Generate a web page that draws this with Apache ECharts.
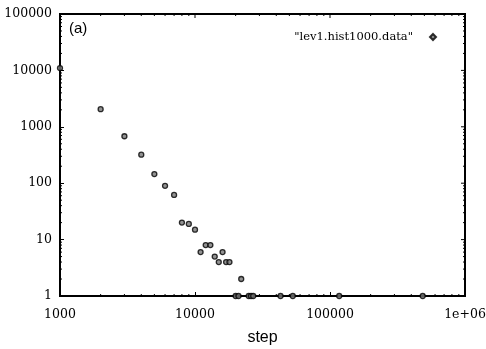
<!DOCTYPE html>
<html>
<head>
<meta charset="utf-8">
<script src="https://cdn.jsdelivr.net/npm/echarts@6/dist/echarts.min.js"></script>
<style>html,body{margin:0;padding:0;background:#fff}#c{width:486px;height:349px}</style>
</head>
<body>
<div id="c"></div>
<script>
var seriesName = '"lev1.hist1000.data"';
var steps  = [1000, 2000, 3000, 4000, 5000, 6000, 7000, 8000, 9000, 10000, 11000, 12000, 13000, 14000, 15000, 16000, 17000, 18000, 22000, 20000, 21000, 25000, 26000, 27000, 43000, 53000, 117000, 486000];
var counts = [11000, 2050, 680, 320, 145, 90, 62, 20, 19, 15, 6, 8, 8, 5, 4, 6, 4, 4, 2, 1, 1, 1, 1, 1, 1, 1, 1, 1];
var xTickLabels = {1000: '1000', 10000: '10000', 100000: '100000', 1000000: '1e+06'};
var yTickLabels = {1: '1', 10: '10', 100: '100', 1000: '1000', 10000: '10000', 100000: '100000'};

var points = steps.map(function (s, i) { return [s, counts[i]]; });

// minor tick positions (2..9 x 10^k)
var xMinor = [], yMinor = [];
for (var k = 3; k < 6; k++) for (var m = 2; m <= 9; m++) xMinor.push(m * Math.pow(10, k));
for (var k2 = 0; k2 < 5; k2++) for (var m2 = 2; m2 <= 9; m2++) yMinor.push(m2 * Math.pow(10, k2));

var chart = echarts.init(document.getElementById('c'));
var labelFont = {fontFamily: 'DejaVu Serif', fontSize: 12.5, color: '#000', fontWeight: 'normal'};

chart.setOption({
  animation: false,
  backgroundColor: '#fff',
  grid: {left: 60, right: 21, top: 14, bottom: 53, containLabel: false, outerBoundsMode: 'none', show: true, borderColor: '#000', borderWidth: 2, backgroundColor: 'transparent'},
  title: {text: '(a)', left: 64, top: 16, textStyle: {fontFamily: 'Liberation Sans', fontSize: 15, fontWeight: 'normal', color: '#000'}},
  legend: {
    right: 44, top: 26, align: 'right', itemWidth: 6, itemHeight: 6, itemGap: 14,
    data: [{name: seriesName, icon: 'diamond'}],
    textStyle: {fontFamily: 'DejaVu Serif', fontSize: 11.5, color: '#000', padding: [0, 12, 0, 0]}
  },
  xAxis: {
    type: 'log', logBase: 10, min: 1000, max: 1000000,
    name: 'step', nameLocation: 'middle', nameGap: 34,
    nameTextStyle: {fontFamily: 'Liberation Sans', fontSize: 16, color: '#000'},
    axisLine: {show: true, lineStyle: {color: '#000', width: 2}},
    axisTick: {show: true, inside: true, length: 4, lineStyle: {color: '#000'}},
    splitLine: {show: false},
    axisLabel: Object.assign({margin: 12, formatter: function (v) { return xTickLabels[v] || ''; }}, labelFont)
  },
  yAxis: {
    type: 'log', logBase: 10, min: 1, max: 100000,
    axisLine: {show: true, lineStyle: {color: '#000', width: 2}},
    axisTick: {show: true, inside: true, length: 4, lineStyle: {color: '#000'}},
    splitLine: {show: false},
    axisLabel: Object.assign({margin: 8, formatter: function (v) { return yTickLabels[v] || ''; }}, labelFont)
  },
  series: [
    {
      name: seriesName, type: 'scatter', data: points, symbol: 'circle', symbolSize: 5,
      itemStyle: {color: '#777', borderColor: '#000', borderWidth: 1.3},
      clip: false, z: 5
    },
    {
      type: 'custom', silent: true, z: 3,
      data: xMinor.map(function (v) { return [v, 1]; }),
      renderItem: function (params, api) {
        var p = api.coord([api.value(0), 1]);
        var top = api.coord([api.value(0), 100000]);
        return {type: 'group', children: [
          {type: 'line', shape: {x1: p[0], y1: p[1], x2: p[0], y2: p[1] - 2}, style: {stroke: '#000', lineWidth: 1}},
          {type: 'line', shape: {x1: top[0], y1: top[1], x2: top[0], y2: top[1] + 2}, style: {stroke: '#000', lineWidth: 1}}
        ]};
      }
    },
    {
      type: 'custom', silent: true, z: 3,
      data: yMinor.map(function (v) { return [1000, v]; }),
      renderItem: function (params, api) {
        var p = api.coord([1000, api.value(1)]);
        var r = api.coord([1000000, api.value(1)]);
        return {type: 'group', children: [
          {type: 'line', shape: {x1: p[0], y1: p[1], x2: p[0] + 2, y2: p[1]}, style: {stroke: '#000', lineWidth: 1}},
          {type: 'line', shape: {x1: r[0], y1: r[1], x2: r[0] - 2, y2: r[1]}, style: {stroke: '#000', lineWidth: 1}}
        ]};
      }
    },
    {
      type: 'custom', silent: true, z: 3,
      data: [[1000, 1], [10000, 10], [100000, 100], [1000000, 1000], [1000000, 10000]],
      renderItem: function (params, api) {
        var xv = api.value(0), yv = api.value(1);
        var t = api.coord([xv, 100000]);
        var r = api.coord([1000000, yv]);
        return {type: 'group', children: [
          {type: 'line', shape: {x1: t[0], y1: t[1], x2: t[0], y2: t[1] + 4}, style: {stroke: '#000', lineWidth: 1}},
          {type: 'line', shape: {x1: r[0], y1: r[1], x2: r[0] - 4, y2: r[1]}, style: {stroke: '#000', lineWidth: 1}}
        ]};
      }
    }
  ]
});
</script>
</body>
</html>
